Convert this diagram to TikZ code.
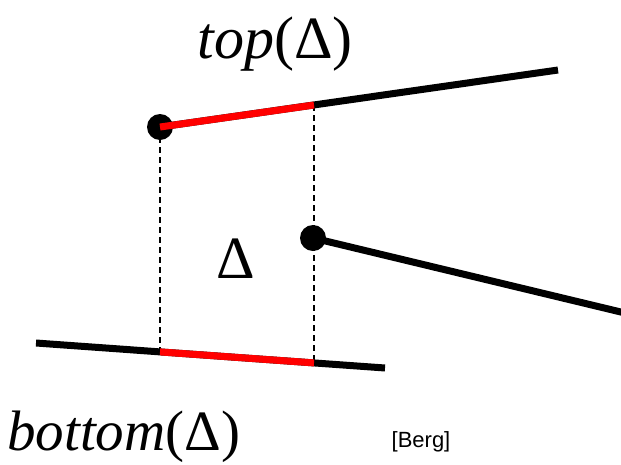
\documentclass[tikz,border=0pt]{standalone}
\usepackage{fontspec}
\setmainfont{Liberation Serif}
\newfontfamily\arialfont{Liberation Sans}
\begin{document}
\begin{tikzpicture}[x=1pt,y=-1pt,
  seg/.style={line width=7pt},
  redseg/.style={line width=7pt,red},
  guide/.style={line width=1.6pt,dash pattern=on 6pt off 4pt},
  dot/.style={circle,fill=black,inner sep=0pt,minimum size=26pt},
  lbl/.style={font=\fontsize{60}{60}\selectfont,inner sep=0pt,anchor=base}]
\useasboundingbox (0,0) rectangle (621,464);
% points
\node[dot] (p) at (160,127) {};
\coordinate (pc) at (160,127);
\coordinate (tr) at (558,70);
\coordinate (ta) at (314,105);
\node[dot] (q) at (313,238) {};
\coordinate (qc) at (313,238);
\coordinate (qr) at (625,313);
\coordinate (bl) at (36,343);
\coordinate (br) at (385,368);
\coordinate (b1) at (160,351.9);
\coordinate (b2) at (314,362.9);
% dashed verticals
\draw[guide] (pc) -- (b1);
\draw[guide] (ta) -- (b2);
% segments
\draw[seg] (pc) -- (tr);
\draw[redseg] (pc) -- (ta);
\draw[seg] (qc) -- (qr);
\draw[seg] (bl) -- (br);
\draw[redseg] (b1) -- (b2);
% labels
\node[lbl] (top) at (275,58) {\textit{top}(\textup{Δ})};
\node[lbl] (mid) at (236,278) {\textup{Δ}};
\node[lbl,anchor=base west,font=\fontsize{57}{57}\selectfont] (bot) at (7,450) {\textit{bottom}(\textup{Δ})};
\node[inner sep=0pt,anchor=base,font=\arialfont\fontsize{22}{22}\selectfont] (berg) at (421,447) {[Berg]};
\end{tikzpicture}
\end{document}
